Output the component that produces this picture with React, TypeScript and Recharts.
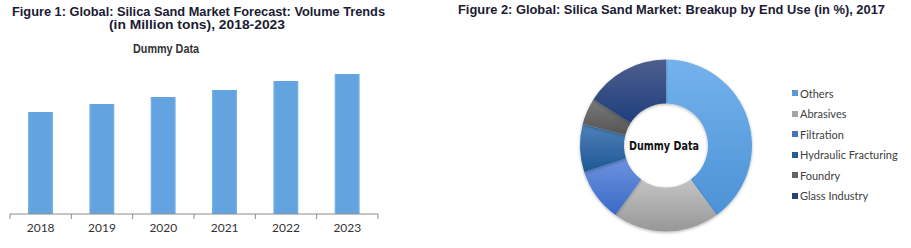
import { BarChart, Bar, XAxis, YAxis, PieChart, Pie, Cell, Legend } from "recharts";

const years = ["2018", "2019", "2020", "2021", "2022", "2023"];
const volumes = [102, 110, 117, 124, 133, 140];

const endUses = ["Others", "Abrasives", "Filtration", "Hydraulic Fracturing", "Foundry", "Glass Industry"];
const shares = [40, 20, 10, 9, 5, 16];

// top / bottom shades of each slice
const sliceTop = ["#74b2ec", "#c4c4c4", "#6e92de", "#4f80b9", "#7a7a7a", "#4d5f8e"];
const sliceBottom = ["#4c92d6", "#979797", "#3a69c6", "#1d5894", "#545454", "#1f3e7c"];
const legendColors = ["#5b9bd5", "#a5a5a5", "#4472c4", "#255e91", "#636363", "#264478"];

const barData = years.map((year, i) => ({ year, volume: volumes[i] }));
const pieData = endUses.map((name, i) => ({ name, value: shares[i] }));

const TITLE_FONT = "'Liberation Sans', Arial, sans-serif";
const CENTER_FONT = "Tahoma, Verdana, 'DejaVu Sans', sans-serif";
const LABEL_FONT = "Lato, 'Liberation Sans', sans-serif";

const BAR_W = 400;
const BAR_LEFT = 10;
const BAR_RIGHT = 22;
const HALF_BAND = (BAR_W - BAR_LEFT - BAR_RIGHT) / years.length / 2;

const PIE_CX = 216;
const PIE_CY = 145.5;

function YearTick({ x, y, payload, index }: any) {
  return (
    <g>
      <line x1={x - HALF_BAND} y1={y - 8} x2={x - HALF_BAND} y2={y - 3} stroke="#8c8c8c" />
      {index === years.length - 1 && (
        <line x1={x + HALF_BAND} y1={y - 8} x2={x + HALF_BAND} y2={y - 3} stroke="#8c8c8c" />
      )}
      <text x={x} y={y + 10} textAnchor="middle" fontSize={12} fontFamily={LABEL_FONT} fill="#333">
        {payload.value}
      </text>
    </g>
  );
}

function EndUseLegend() {
  return (
    <div style={{ fontFamily: LABEL_FONT, fontSize: 11, color: "#404040" }}>
      {endUses.map((name, i) => (
        <div key={name} style={{ display: "flex", alignItems: "center", height: 20.5 }}>
          <span style={{ width: 6, height: 6, background: legendColors[i], marginRight: 2 }} />
          {name}
        </div>
      ))}
    </div>
  );
}

export default function App() {
  return (
    <div style={{ position: "relative", width: 911, height: 248, background: "#fff", overflow: "hidden" }}>
      <style>{"body{margin:0}"}</style>

      <div style={{ position: "absolute", left: 0, top: 0 }}>
        <BarChart width={BAR_W} height={248} data={barData} margin={{ top: 64, right: BAR_RIGHT, left: BAR_LEFT, bottom: 0 }}>
          <defs>
            <linearGradient id="barFill" x1="0" y1="0" x2="1" y2="0">
              <stop offset="0%" stopColor="#7fb5e8" />
              <stop offset="8%" stopColor="#62a3e0" />
              <stop offset="92%" stopColor="#62a3e0" />
              <stop offset="100%" stopColor="#7fb5e8" />
            </linearGradient>
          </defs>
          <XAxis
            dataKey="year"
            height={34}
            stroke="#8c8c8c"
            tickLine={false}
            tick={<YearTick />}
            interval={0}
          />
          <YAxis hide domain={[0, 150]} />
          <Bar dataKey="volume" fill="url(#barFill)" barSize={25} isAnimationActive={false} />
        </BarChart>
      </div>

      <div style={{ position: "absolute", left: 450, top: 0 }}>
        <PieChart width={461} height={248} margin={{ top: 0, right: 0, bottom: 0, left: 0 }}>
          <defs>
            {endUses.map((name, i) => (
              <linearGradient key={name} id={`slice${i}`} x1="0" y1="0" x2="0" y2="1">
                <stop offset="0%" stopColor={sliceTop[i]} />
                <stop offset="100%" stopColor={sliceBottom[i]} />
              </linearGradient>
            ))}
            <filter id="donutShadow" x="-20%" y="-20%" width="140%" height="140%">
              <feDropShadow dx="0" dy="1" stdDeviation="1.5" floodColor="#000" floodOpacity="0.3" />
            </filter>
          </defs>
          <Pie
            data={pieData}
            dataKey="value"
            nameKey="name"
            cx={PIE_CX}
            cy={PIE_CY}
            innerRadius={42}
            outerRadius={86}
            startAngle={90}
            endAngle={-270}
            stroke="none"
            isAnimationActive={false}
            style={{ filter: "url(#donutShadow)" }}
          >
            {pieData.map((d, i) => (
              <Cell key={d.name} fill={`url(#slice${i})`} />
            ))}
          </Pie>
          <text
            x={PIE_CX - 2}
            y={PIE_CY + 4.5}
            textAnchor="middle"
            fontFamily={CENTER_FONT}
            fontWeight="bold"
            fontSize={13}
            fill="#111"
            textLength={70}
            lengthAdjust="spacingAndGlyphs"
          >
            Dummy Data
          </text>
          <Legend
            content={<EndUseLegend />}
            layout="vertical"
            wrapperStyle={{ position: "absolute", left: 342, top: 83, width: 119 }}
          />
        </PieChart>
      </div>

      <svg width={911} height={60} style={{ position: "absolute", left: 0, top: 0 }}>
        <g fontFamily={TITLE_FONT} fontWeight="bold" fill="#1b1b33" fontSize={12}>
          <text x={12} y={15.5} textLength={373} lengthAdjust="spacingAndGlyphs">
            Figure 1: Global: Silica Sand Market Forecast: Volume Trends
          </text>
          <text x={109} y={28.5} textLength={176} lengthAdjust="spacingAndGlyphs">
            (in Million tons), 2018-2023
          </text>
          <text x={458} y={14} textLength={427} lengthAdjust="spacingAndGlyphs">
            Figure 2: Global: Silica Sand Market: Breakup by End Use (in %), 2017
          </text>
        </g>
        <text
          x={133}
          y={53}
          fontFamily={TITLE_FONT}
          fontWeight="bold"
          fontSize={12}
          fill="#333"
          textLength={66}
          lengthAdjust="spacingAndGlyphs"
        >
          Dummy Data
        </text>
      </svg>
    </div>
  );
}
